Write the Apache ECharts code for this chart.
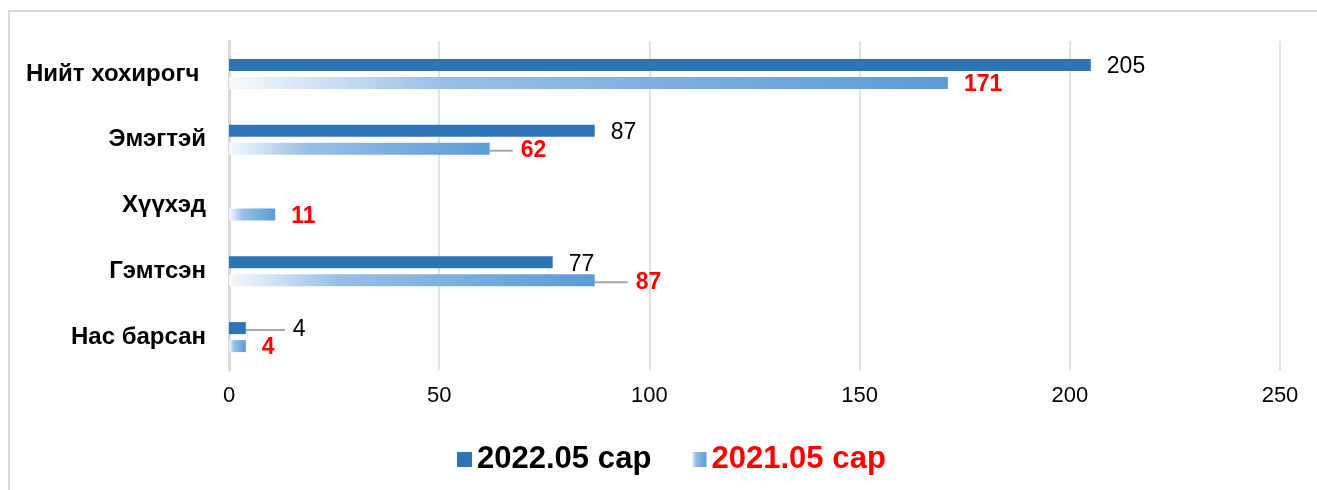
<!DOCTYPE html>
<html>
<head>
<meta charset="utf-8">
<script src="https://cdn.jsdelivr.net/npm/echarts@6/dist/echarts.min.js"></script>
<style>
  html, body { margin: 0; padding: 0; background: #fff; }
  #chart { width: 1317px; height: 490px; }
</style>
</head>
<body>
<div id="chart"></div>
<script>
var categories = ['Нийт хохирогч ', 'Эмэгтэй', 'Хүүхэд', 'Гэмтсэн', 'Нас барсан'];
var values2022 = [205, 87, '-', 77, 4];
var values2021 = [171, 62, 11, 87, 4];
var seriesNames = ['2022.05 сар', '2021.05 сар'];

// labels pushed out with a grey leader line
var shift2022 = [0, 0, 0, 0, 23];
var shift2021 = [0, 7, 0, 17, 0];

var lightBar = new echarts.graphic.LinearGradient(0, 0, 1, 0, [
    { offset: 0, color: '#f7fafd' },
    { offset: 0.3, color: '#97bfe5' },
    { offset: 1, color: '#5b9bd5' }
]);

function withLines(values, shift) {
    return values.map(function (v, i) {
        if (!shift[i]) return v;
        return {
            value: v,
            labelLine: { show: true },
            label: { padding: [0, 0, 0, 8], backgroundColor: 'rgba(255,255,255,0)' }
        };
    });
}

var chart = echarts.init(document.getElementById('chart'));

chart.setOption({
    animation: false,
    textStyle: { fontFamily: 'Liberation Sans, Arial, sans-serif' },
    graphic: [{
        type: 'rect',
        shape: { x: 9, y: 11, width: 1330, height: 500 },
        style: { fill: 'none', stroke: '#d9d9d9', lineWidth: 2 },
        silent: true
    }],
    grid: { left: 229, right: 37, top: 41, bottom: 120 },
    legend: {
        left: 452,
        top: 439,
        itemWidth: 15,
        itemHeight: 15,
        itemGap: 40,
        icon: 'rect',
        textStyle: { fontSize: 31, fontWeight: 'bold' },
        data: [
            { name: seriesNames[0], textStyle: { color: '#000' } },
            { name: seriesNames[1], textStyle: { color: '#ff0000' } }
        ]
    },
    xAxis: {
        type: 'value',
        min: 0,
        max: 250,
        interval: 50,
        axisLine: { show: false },
        axisTick: { show: false },
        axisLabel: { color: '#000', fontSize: 22, margin: 15 },
        splitLine: { lineStyle: { color: '#d9d9d9', width: 1.5 } }
    },
    yAxis: {
        type: 'category',
        inverse: true,
        data: categories,
        axisTick: { show: false },
        axisLine: { lineStyle: { color: '#d9d9d9', width: 3 } },
        axisLabel: { color: '#000', fontSize: 24, fontWeight: 'bold', margin: 23 }
    },
    series: [{
        name: seriesNames[0],
        type: 'bar',
        barWidth: 12,
        barGap: '50%',
        itemStyle: { color: '#2e75b6' },
        data: withLines(values2022, shift2022),
        label: {
            show: true,
            position: 'right',
            distance: 16,
            color: '#000',
            fontSize: 23
        },
        labelLine: { lineStyle: { color: '#a6a6a6', width: 2 } },
        labelLayout: function (p) {
            return { dx: shift2022[p.dataIndex], dy: 2 };
        }
    }, {
        name: seriesNames[1],
        type: 'bar',
        barWidth: 12,
        itemStyle: { color: lightBar },
        data: withLines(values2021, shift2021),
        label: {
            show: true,
            position: 'right',
            distance: 16,
            color: '#ff0000',
            fontSize: 23,
            fontWeight: 'bold'
        },
        labelLine: { lineStyle: { color: '#a6a6a6', width: 2 } },
        labelLayout: function (p) {
            return { dx: shift2021[p.dataIndex], dy: 2 };
        }
    }]
});
</script>
</body>
</html>
